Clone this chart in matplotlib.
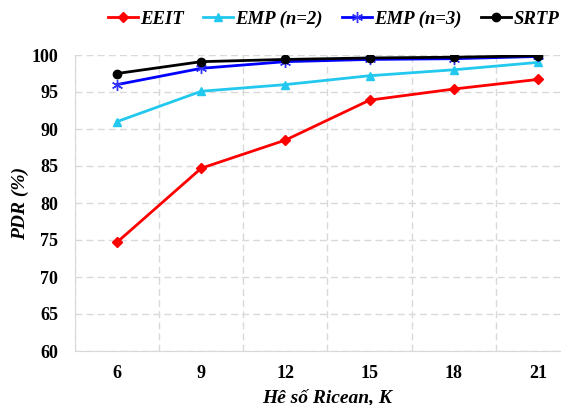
import numpy as np
import matplotlib.pyplot as plt

#### Data ####
k_values = ['6', '9', '12', '15', '18', '21']
eeit = [74.7, 84.7, 88.5, 93.9, 95.4, 96.7]
emp2 = [91.0, 95.1, 96.0, 97.2, 98.0, 99.0]
emp3 = [96.0, 98.2, 99.1, 99.4, 99.5, 99.8]
srtp = [97.5, 99.1, 99.4, 99.6, 99.7, 99.9]

plt.rcParams['font.family'] = ['Liberation Serif']

fig = plt.figure(figsize=(5.61, 4.05), dpi=100)
ax = fig.add_axes([75/561, 54/405, 505/561, 296/405])

x = np.arange(len(k_values))
ax.plot(x, eeit, color='#ff0000', lw=2, marker='D', ms=5, label='EEIT')
ax.plot(x, emp2, color='#22c8ee', lw=2, marker='^', ms=6, label='EMP (n=2)')
ax.plot(x, emp3, color='#0000ff', lw=2, marker=(6, 2, 0), ms=8, mew=1,
        mec='#3333ff', label='EMP (n=3)')
ax.plot(x, srtp, color='#000000', lw=2, marker='o', ms=6, label='SRTP')

#### Axes ####
ax.set_xlim(-0.5, len(k_values) - 0.5)
ax.set_ylim(60, 100)
ax.set_yticks(np.arange(60, 101, 5))
ax.set_xticks(x)
ax.set_xticklabels(k_values)
ax.set_xticks(np.arange(-0.5, len(k_values), 1), minor=True)
ax.tick_params(which='both', length=0)
ax.tick_params(axis='x', pad=10, labelsize=13)
ax.tick_params(axis='y', pad=12, labelsize=13)
for lbl in ax.get_xticklabels() + ax.get_yticklabels():
    lbl.set_fontweight('bold')

ax.grid(True, which='major', axis='y', ls=(0, (5, 3)), color='#d9d9d9', lw=1)
ax.grid(True, which='minor', axis='x', ls=(0, (5, 3)), color='#d9d9d9', lw=1)
ax.set_axisbelow(True)
for s in ['top', 'right']:
    ax.spines[s].set_visible(False)
for s in ['left', 'bottom']:
    ax.spines[s].set_color('#d9d9d9')

ax.set_xlabel('Hê số Ricean, K', fontsize=14, fontweight='bold', style='italic', labelpad=5)
ax.set_ylabel('PDR (%)', fontsize=14, fontweight='bold', style='italic', labelpad=2)

leg = fig.legend(loc='center right', bbox_to_anchor=(1.0, 0.952), ncol=4, frameon=False,
                 prop={'weight': 'bold', 'style': 'italic', 'size': 13.5},
                 handlelength=1.6, columnspacing=1.05, handletextpad=0.1,
                 borderaxespad=0.0, borderpad=0.1)

fig.savefig('out.png', dpi=100)
